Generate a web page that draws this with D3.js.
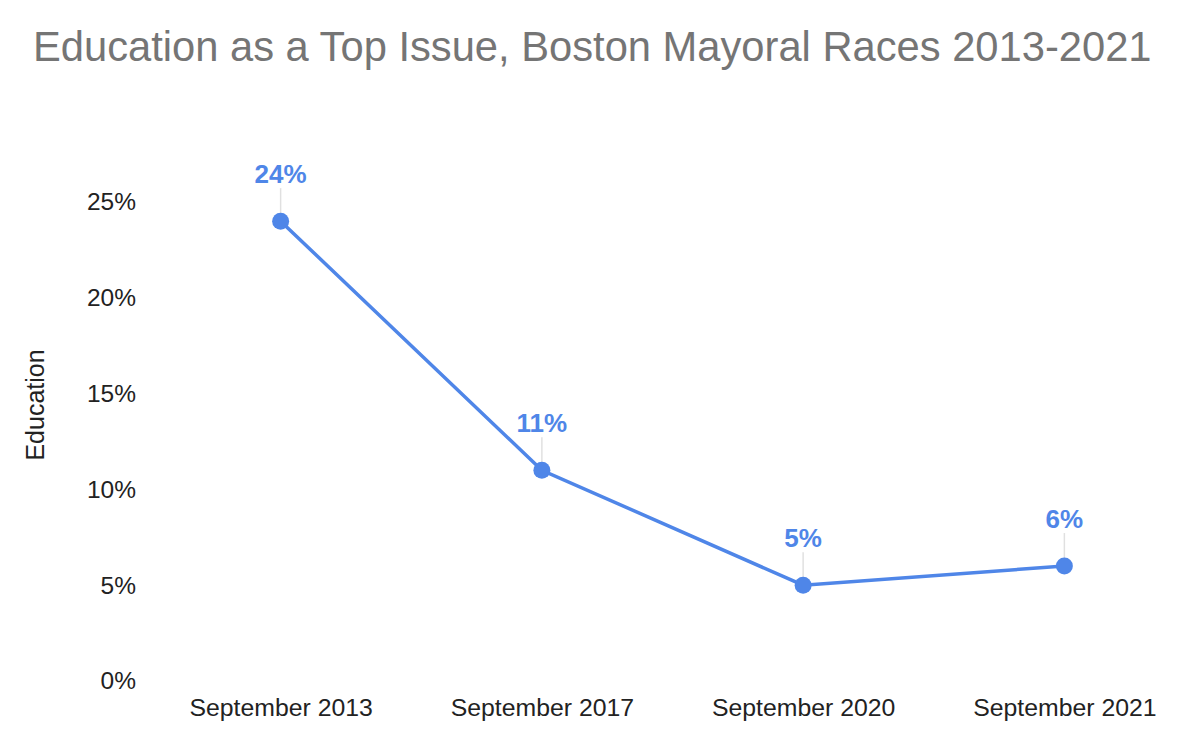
<!DOCTYPE html>
<html>
<head>
<meta charset="utf-8">
<script src="https://cdn.jsdelivr.net/npm/d3@7"></script>
<style>
  body { margin: 0; background: #fff; }
  svg { display: block; font-family: "Liberation Sans", Arial, sans-serif; }
</style>
</head>
<body>
<div class="container"></div>
<script>
// Data
const categories = ["September 2013", "September 2017", "September 2020", "September 2021"];
const values = [24, 11, 5, 6];
const yTicks = [0, 5, 10, 15, 20, 25];

// Dimensions
const w = 1196;
const h = 740;
const blue = "#4f86e8";

// Scales
const xScale = d3.scalePoint()
       .domain(categories)
       .range([150, 1195])
       .padding(0.5);

const yScale = d3.scaleLinear()
       .domain([0, 25])
       .range([681, 202]);

// SVG container
const svg = d3.select(".container")
       .append("svg")
       .attr("width", w)
       .attr("height", h);

// Title
svg.append("text")
    .attr("x", 33)
    .attr("y", 61)
    .style("font-size", "41.7px")
    .style("fill", "#757575")
    .text("Education as a Top Issue, Boston Mayoral Races 2013-2021");

// y-axis
const yAxis = d3.axisLeft(yScale)
    .tickValues(yTicks)
    .tickSize(0)
    .tickPadding(0)
    .tickFormat(d => d + "%");
svg.append("g")
    .attr("id", "y-axis")
    .attr("transform", "translate(136,0)")
    .call(yAxis)
    .call(g => g.select(".domain").remove())
    .selectAll("text")
    .style("font-size", "24.5px")
    .style("font-family", "Liberation Sans, Arial, sans-serif")
    .style("fill", "#222");

// x-axis
const xAxis = d3.axisBottom(xScale).tickSize(0).tickPadding(0);
svg.append("g")
    .attr("id", "x-axis")
    .attr("transform", "translate(0,698)")
    .call(xAxis)
    .call(g => g.select(".domain").remove())
    .selectAll("text")
    .attr("dy", "0.71em")
    .style("font-size", "24.8px")
    .style("font-family", "Liberation Sans, Arial, sans-serif")
    .style("fill", "#222");

// y-axis label
svg.append("text")
    .attr("transform", "rotate(-90)")
    .attr("x", -405)
    .attr("y", 44)
    .style("text-anchor", "middle")
    .style("font-size", "25px")
    .style("fill", "#222")
    .text("Education");

const data = categories.map((c, i) => ({ cat: c, val: values[i] }));

// leader lines
svg.selectAll(".leader")
    .data(data)
    .enter()
    .append("line")
    .attr("class", "leader")
    .attr("x1", d => xScale(d.cat))
    .attr("x2", d => xScale(d.cat))
    .attr("y1", d => yScale(d.val) - 33)
    .attr("y2", d => yScale(d.val))
    .attr("stroke", "#e0e0e0")
    .attr("stroke-width", 1.5);

// line
const line = d3.line()
    .x(d => xScale(d.cat))
    .y(d => yScale(d.val));
svg.append("path")
    .datum(data)
    .attr("d", line)
    .attr("fill", "none")
    .attr("stroke", blue)
    .attr("stroke-width", 3.5);

// points
svg.selectAll(".dot")
    .data(data)
    .enter()
    .append("circle")
    .attr("class", "dot")
    .attr("cx", d => xScale(d.cat))
    .attr("cy", d => yScale(d.val))
    .attr("r", 8.5)
    .attr("fill", blue);

// data labels
svg.selectAll(".label")
    .data(data)
    .enter()
    .append("text")
    .attr("class", "label")
    .attr("x", d => xScale(d.cat))
    .attr("y", d => yScale(d.val) - 38)
    .style("text-anchor", "middle")
    .style("font-size", "26px")
    .style("font-weight", "bold")
    .style("fill", blue)
    .text(d => d.val + "%");
</script>
</body>
</html>
